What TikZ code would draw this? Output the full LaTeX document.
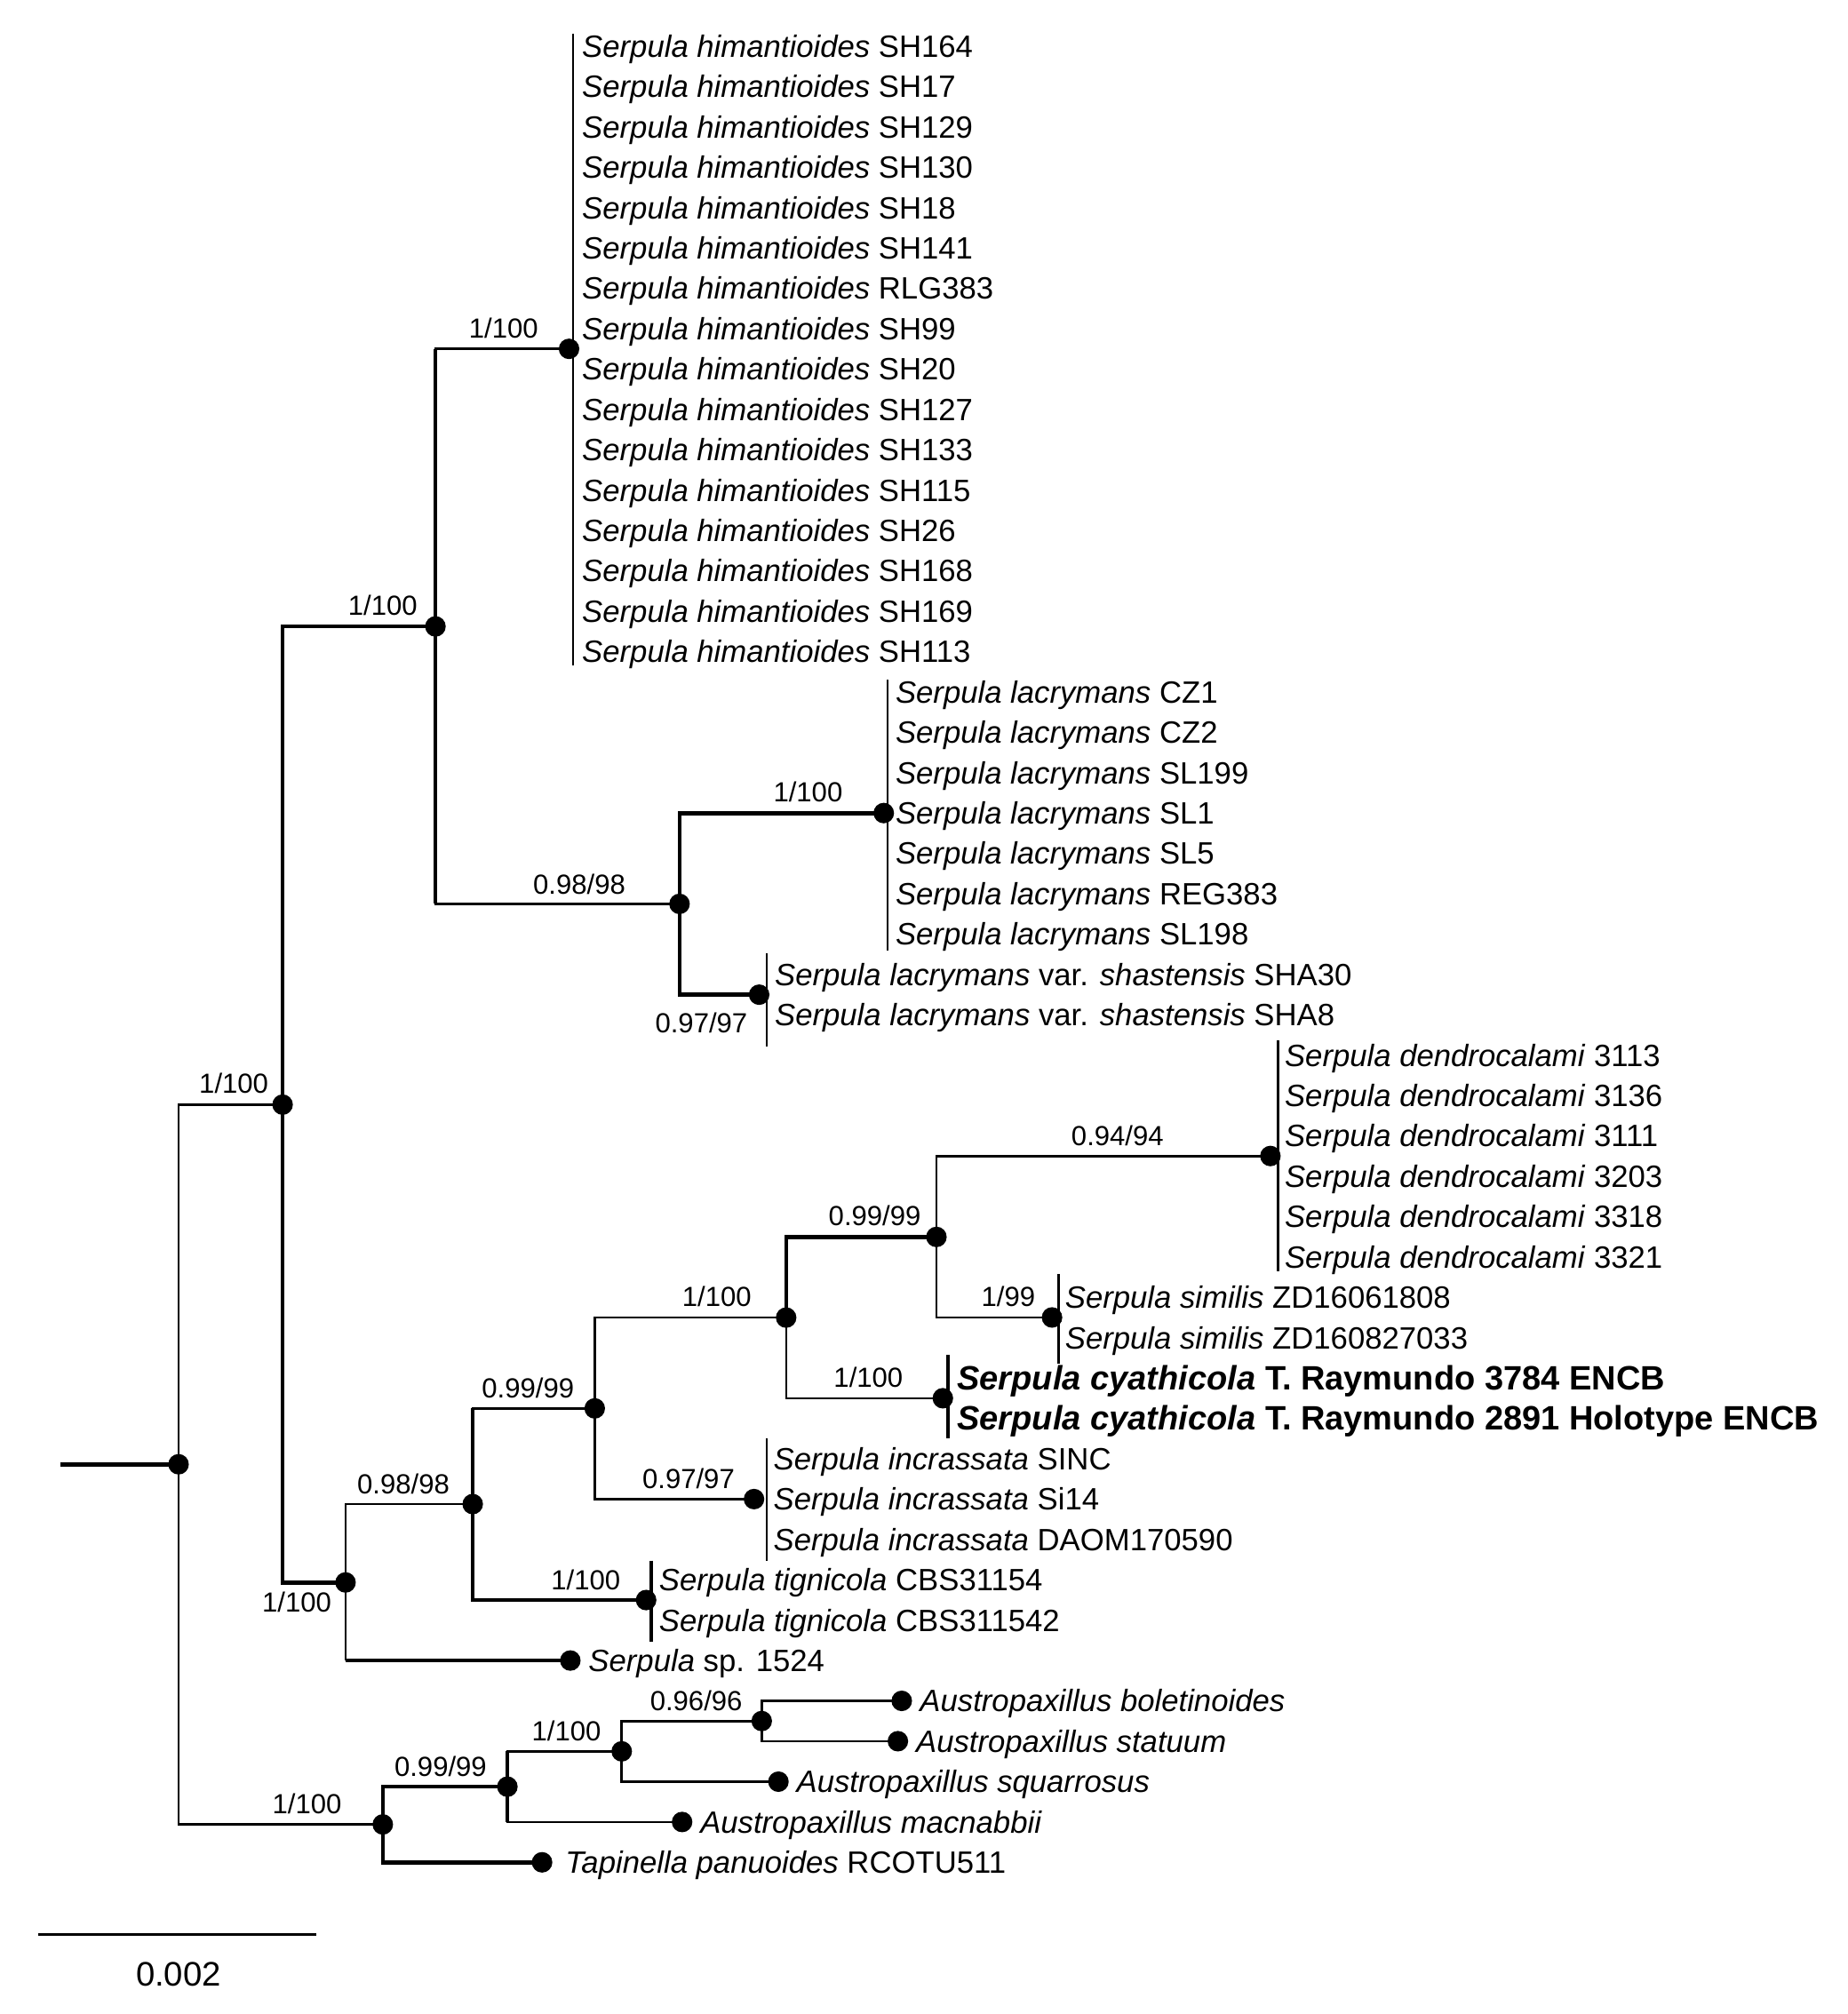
\documentclass[tikz,border=0pt]{standalone}
\usepackage{fontspec}
\setmainfont{Liberation Sans}
\usetikzlibrary{positioning}

\begin{document}
\begin{tikzpicture}[x=1pt,y=-1pt]
\tikzstyle{every node}+=[inner sep=0pt]
\tikzstyle{dot}=[circle,fill=black,minimum size=16pt]
\tikzstyle{thk}=[line width=3.2pt]
\tikzstyle{thn}=[line width=1.8pt]
\tikzstyle{tip}=[anchor=west,text height=19pt,text depth=2pt,font=\fontsize{24}{24}\selectfont]
\tikzstyle{boldtip}=[tip,text height=20pt,font=\fontsize{26.3}{26}\selectfont\bfseries]
\tikzstyle{bs}=[text height=16pt,text depth=0pt,font=\fontsize{21.5}{21.5}\selectfont]
\useasboundingbox (0,0) rectangle (1438,1568);
% internal nodes and single tips
\node[dot] (root) at (139,1140) {};
\node[dot] (serp) at (220,860) {};
\node[dot] (upper) at (339,487.7) {};
\node[dot] (himant) at (443,271.6) {};
\node[dot] (lacry) at (529,703.7) {};
\node[dot] (lacsl) at (688,633) {};
\node[dot] (shast) at (591,774.4) {};
\node[dot] (lower) at (269,1232) {};
\node[dot] (clD) at (368,1171) {};
\node[dot] (clE) at (463,1096.5) {};
\node[dot] (clF) at (612,1025.8) {};
\node[dot] (clG) at (729,963) {};
\node[dot] (dendro) at (989,900) {};
\node[dot] (simil) at (819,1025.7) {};
\node[dot] (cyath) at (734,1088.6) {};
\node[dot] (incra) at (587,1167.1) {};
\node[dot] (tigni) at (503,1245.7) {};
\node[dot] (sp1524) at (444,1292.8) {};
\node[dot] (aus) at (298,1420.4) {};
\node[dot] (ausA) at (395,1391) {};
\node[dot] (ausB) at (484,1363.5) {};
\node[dot] (ausC) at (593,1339.9) {};
\node[dot] (bolet) at (702,1324.2) {};
\node[dot] (statu) at (699,1355.6) {};
\node[dot] (squar) at (606,1387.1) {};
\node[dot] (macna) at (531,1418.5) {};
\node[dot] (tapin) at (422,1449.9) {};
\coordinate (stem) at (47,1140);
% branches
\draw[thk] (stem) -- (root.center);
\draw[thn] (root.center) |- (serp.center);
\draw[thn] (root.center) |- (aus.center);
\draw[thk] (serp.center) |- (upper.center);
\draw[thk] (serp.center) |- (lower.center);
\draw[thn] (upper.center) |- (himant.center);
\draw[thn] (upper.center) |- (lacry.center);
\draw[thk] (upper.center |- himant.center) -- (upper.center |- lacry.center);
\draw[thk] (lacry.center) |- (lacsl.center);
\draw[thk] (lacry.center) |- (shast.center);
\draw[thn] (lower.center) |- (clD.center);
\draw[thn] (lower.center) -- (lower.center |- sp1524.center);
\draw[thk] (lower.center |- sp1524.center) -- (sp1524.center);
\draw[thn] (clD.center) |- (clE.center);
\draw[thk] (clD.center) |- (tigni.center);
\draw[thk] (clD.center) -- (clD.center |- clE.center);
\draw[thn] (clE.center) |- (clF.center);
\draw[thn] (clE.center) |- (incra.center);
\draw[thk] (clF.center) |- (clG.center);
\draw[thn] (clF.center) |- (cyath.center);
\draw[thn] (clG.center) |- (dendro.center);
\draw[thn] (clG.center) |- (simil.center);
\draw[thk] (aus.center) |- (ausA.center);
\draw[thk] (aus.center) |- (tapin.center);
\draw[thn] (ausA.center) |- (ausB.center);
\draw[thn] (ausA.center) |- (macna.center);
\draw[thk] (ausA.center |- ausB.center) -- (ausA.center |- macna.center);
\draw[thn] (ausB.center) |- (ausC.center);
\draw[thn] (ausB.center) |- (squar.center);
\draw[thn] (ausC.center) |- (bolet.center);
\draw[thn] (ausC.center) |- (statu.center);
% collapsed clades
\coordinate (himT) at (446,26); \coordinate (himB) at (446,518);
\coordinate (slT) at (691,529); \coordinate (slB) at (691,740);
\coordinate (shaT) at (597,742); \coordinate (shaB) at (597,815);
\coordinate (denT) at (995,810); \coordinate (denB) at (995,990);
\coordinate (simT) at (824,992); \coordinate (simB) at (824,1062);
\coordinate (cyaT) at (738,1055); \coordinate (cyaB) at (738,1120);
\coordinate (incT) at (597,1120); \coordinate (incB) at (597,1215);
\coordinate (tigT) at (507,1215); \coordinate (tigB) at (507,1278);
\draw[thn] (himT) -- (himB);
\draw[thn] (slT) -- (slB);
\draw[thn] (shaT) -- (shaB);
\draw[line width=2.4pt] (denT) -- (denB);
\draw[thn] (simT) -- (simB);
\draw[thk] (cyaT) -- (cyaB);
\draw[thn] (incT) -- (incB);
\draw[thk] (tigT) -- (tigB);
% support values
\node[bs] (bs1) at (182,843) {1/100};
\node[bs] (bs2) at (298,471) {1/100};
\node[bs] (bs3) at (392,255) {1/100};
\node[bs] (bs4) at (451,688) {0.98/98};
\node[bs] (bs5) at (629,616) {1/100};
\node[bs] (bs6) at (546,796) {0.97/97};
\node[bs] (bs7) at (231,1247) {1/100};
\node[bs] (bs8) at (314,1155) {0.98/98};
\node[bs] (bs9) at (411,1080) {0.99/99};
\node[bs] (bs10) at (456,1230) {1/100};
\node[bs] (bs11) at (558,1009) {1/100};
\node[bs] (bs12) at (536,1151) {0.97/97};
\node[bs] (bs13) at (681,946) {0.99/99};
\node[bs] (bs14) at (676,1072) {1/100};
\node[bs] (bs15) at (870,884) {0.94/94};
\node[bs] (bs16) at (785,1009) {1/99};
\node[bs] (bs17) at (239,1404) {1/100};
\node[bs] (bs18) at (343,1375) {0.99/99};
\node[bs] (bs19) at (441,1347) {1/100};
\node[bs] (bs20) at (542,1324) {0.96/96};
% tip labels
\foreach \c [count=\i] in {SH164,SH17,SH129,SH130,SH18,SH141,RLG383,SH99,SH20,SH127,SH133,SH115,SH26,SH168,SH169,SH113}
  \node[tip] (him\i) at (453,{4.58+31.42*\i}) {\textit{Serpula himantioides} \c};
\foreach \c [count=\i from 17] in {CZ1,CZ2,SL199,SL1,SL5,REG383,SL198}
  \node[tip] (sl\i) at (697,{4.58+31.42*\i}) {\textit{Serpula lacrymans} \c};
\foreach \c [count=\i from 24] in {SHA30,SHA8}
  \node[tip] (sha\i) at (603,{4.58+31.42*\i}) {\textit{Serpula lacrymans} var. \textit{shastensis} \c};
\foreach \c [count=\i from 26] in {3113,3136,3111,3203,3318,3321}
  \node[tip] (den\i) at (1000,{4.58+31.42*\i}) {\textit{Serpula dendrocalami} \c};
\foreach \c [count=\i from 32] in {ZD16061808,ZD160827033}
  \node[tip] (sim\i) at (829,{4.58+31.42*\i}) {\textit{Serpula similis} \c};
\node[boldtip] (cya34) at (745,1072.9) {\textit{Serpula cyathicola} T. Raymundo 3784 ENCB};
\node[boldtip] (cya35) at (745,1104.3) {\textit{Serpula cyathicola} T. Raymundo 2891 Holotype ENCB};
\foreach \c [count=\i from 36] in {SINC,Si14,DAOM170590}
  \node[tip] (inc\i) at (602,{4.58+31.42*\i}) {\textit{Serpula incrassata} \c};
\foreach \c [count=\i from 39] in {CBS31154,CBS311542}
  \node[tip] (tig\i) at (513,{4.58+31.42*\i}) {\textit{Serpula tignicola} \c};
\node[tip] (sp41) at (458,1292.8) {\textit{Serpula} sp. 1524};
\node[tip] (aus42) at (716,1324.2) {\textit{Austropaxillus boletinoides}};
\node[tip] (aus43) at (713,1355.6) {\textit{Austropaxillus statuum}};
\node[tip] (aus44) at (620,1387.1) {\textit{Austropaxillus squarrosus}};
\node[tip] (aus45) at (545,1418.5) {\textit{Austropaxillus macnabbii}};
\node[tip] (tap46) at (440,1449.9) {\textit{Tapinella panuoides} RCOTU511};
% scale bar
\coordinate (sbL) at (30,1506); \coordinate (sbR) at (246,1506);
\draw[thn] (sbL) -- (sbR);
\node[font=\fontsize{26.5}{26}\selectfont] (sbtext) at (139,1537) {0.002};
\end{tikzpicture}
\end{document}
